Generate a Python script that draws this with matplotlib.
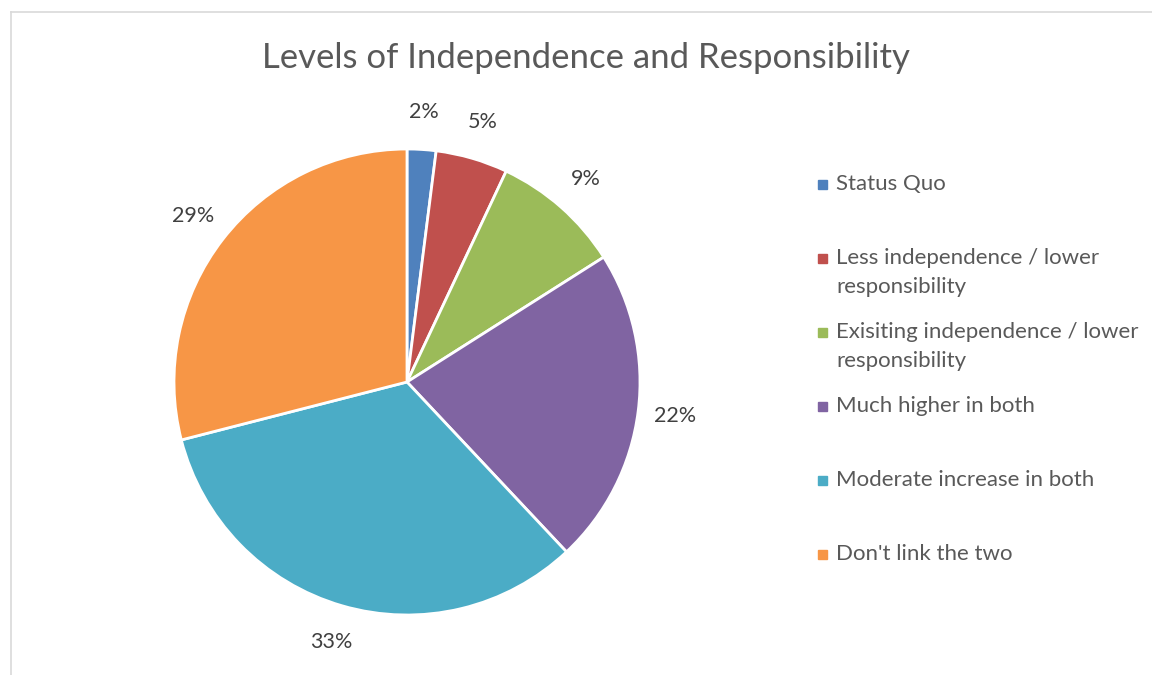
import matplotlib
matplotlib.use("Agg")
import matplotlib.pyplot as plt
from matplotlib.patches import Rectangle
from matplotlib.lines import Line2D

categories = ["Status Quo", "Less independence / lower\nresponsibility",
              "Exisiting independence / lower\nresponsibility", "Much higher in both",
              "Moderate increase in both", "Don't link the two"]
values = [2, 5, 9, 22, 33, 29]
colors = ["#4F81BD", "#C0504D", "#9BBB59", "#8064A2", "#4BACC6", "#F79646"]
title = "Levels of Independence and Responsibility"

FONT = "Lato"
W, H = 1152, 675
fig = plt.figure(figsize=(W / 100, H / 100), dpi=100)

# outer frame (only left and top edges visible)
fx, fy = 11 / W, 1 - 12 / H
fig.add_artist(Line2D([fx, fx], [-0.1, fy], transform=fig.transFigure,
                      color="#d9d9d9", linewidth=1.2))
fig.add_artist(Line2D([fx, 1.1], [fy, fy], transform=fig.transFigure,
                      color="#d9d9d9", linewidth=1.2))

cx, cy, r = 407, 382, 233
ax = fig.add_axes([(cx - r) / W, (H - cy - r) / H, 2 * r / W, 2 * r / H])
wedges, texts, autotexts = ax.pie(
    values, colors=colors, startangle=90, counterclock=False,
    autopct=lambda p: f"{p:.0f}%", pctdistance=1.16,
    wedgeprops=dict(edgecolor="white", linewidth=2),
    textprops=dict(fontsize=15.5, color="#404040", family=FONT))
ax.set_xlim(-1, 1)
ax.set_ylim(-1, 1)
ax.set_aspect("equal")
ax.axis("off")

fig.text(586 / W, 1 - 58 / H, title, ha="center", va="center",
         fontsize=25, color="#595959", family=FONT)

# legend
ys = [184, 258, 332, 406, 480, 554]
for lab, col, y in zip(categories, colors, ys):
    fig.patches.append(Rectangle((818 / W, 1 - (y + 5) / H), 9 / W, 9 / H,
                                 transform=fig.transFigure, color=col))
    fig.text(836 / W, 1 - (y - 10) / H, lab, ha="left", va="top", fontsize=16,
             color="#595959", family=FONT, linespacing=1.55)

fig.savefig("out.png", dpi=100)
